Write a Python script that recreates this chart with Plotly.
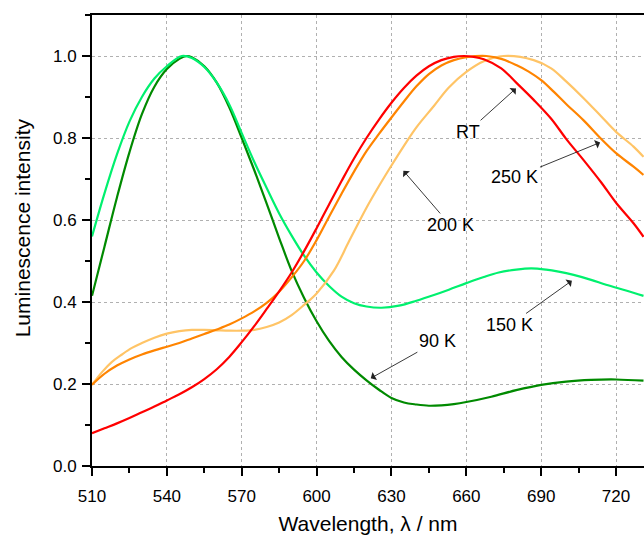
import plotly.graph_objects as go

# ---- data ----
wl_90 = [510, 515, 520, 525, 530, 535, 540, 545, 548, 550, 555, 560, 565, 570, 575, 580, 585, 590, 595,
         600, 605, 610, 615, 620, 625, 630, 635, 640, 645, 650, 655, 660, 670, 680, 690, 700, 710, 720, 731]
int_90 = [0.415, 0.535, 0.655, 0.765, 0.858, 0.925, 0.968, 0.993, 1.0, 0.997, 0.975, 0.935, 0.875, 0.80,
          0.722, 0.64, 0.556, 0.476, 0.41, 0.353, 0.305, 0.266, 0.235, 0.209, 0.186, 0.166, 0.155, 0.15,
          0.147, 0.148, 0.151, 0.156, 0.169, 0.185, 0.198, 0.206, 0.21, 0.211, 0.208]

wl_150 = [510, 515, 520, 525, 530, 535, 540, 546, 550, 555, 560, 565, 570, 575, 580, 585, 590, 595, 600,
          605, 610, 615, 620, 626, 633, 640, 647, 653, 660, 667, 673, 680, 686, 692, 697, 703, 710, 716, 724, 731]
int_150 = [0.56, 0.665, 0.76, 0.84, 0.9, 0.945, 0.975, 1.0, 0.995, 0.973, 0.935, 0.882, 0.812, 0.742, 0.678,
           0.616, 0.562, 0.513, 0.472, 0.439, 0.413, 0.397, 0.389, 0.386, 0.391, 0.403, 0.417, 0.43, 0.446,
           0.461, 0.472, 0.479, 0.482, 0.479, 0.474, 0.466, 0.454, 0.442, 0.428, 0.415]

wl_200 = [510, 514, 518, 522, 526, 530, 535, 540, 545, 550, 555, 560, 565, 570, 575, 580, 585, 590, 595,
          600, 607, 613, 620, 625, 630, 635, 640, 647, 653, 660, 667, 675, 687, 694, 700, 707, 714, 720, 727, 731]
int_200 = [0.198, 0.229, 0.254, 0.272, 0.288, 0.3, 0.313, 0.323, 0.329, 0.332, 0.332, 0.331, 0.33, 0.33,
           0.332, 0.339, 0.35, 0.368, 0.393, 0.421, 0.477, 0.548, 0.63, 0.683, 0.733, 0.781, 0.826, 0.878,
           0.923, 0.961, 0.987, 1.0, 0.99, 0.97, 0.938, 0.897, 0.853, 0.815, 0.779, 0.754]

wl_250 = [510, 515, 520, 525, 530, 535, 540, 545, 550, 555, 560, 565, 570, 575, 580, 585, 590, 595, 600,
          605, 610, 615, 620, 625, 630, 635, 640, 645, 650, 655, 660, 668, 674, 680, 685, 690, 695, 700, 707,
          714, 720, 727, 731]
int_250 = [0.198, 0.225, 0.245, 0.26, 0.272, 0.282, 0.291, 0.30, 0.311, 0.322, 0.333, 0.345, 0.36, 0.377,
           0.398, 0.425, 0.46, 0.50, 0.551, 0.608, 0.664, 0.718, 0.768, 0.81, 0.85, 0.889, 0.926, 0.956, 0.977,
           0.99, 0.997, 1.0, 0.993, 0.978, 0.962, 0.941, 0.913, 0.883, 0.843, 0.798, 0.763, 0.73, 0.71]

wl_rt = [510, 515, 520, 525, 530, 535, 540, 545, 550, 555, 560, 565, 570, 575, 580, 585, 590, 595, 600,
         605, 610, 615, 620, 625, 630, 635, 640, 645, 650, 655, 659, 663, 667, 674, 680, 687, 694, 700, 707,
         714, 720, 727, 731]
int_rt = [0.08, 0.092, 0.104, 0.117, 0.131, 0.145, 0.16, 0.175, 0.192, 0.212, 0.236, 0.266, 0.302, 0.341,
          0.383, 0.426, 0.472, 0.524, 0.58, 0.638, 0.695, 0.75, 0.8, 0.845, 0.886, 0.922, 0.952, 0.975, 0.99,
          0.998, 1.0, 0.998, 0.992, 0.97, 0.935, 0.893, 0.847, 0.798, 0.746, 0.692, 0.642, 0.592, 0.559]

series = [
    ("90 K", wl_90, int_90, "#008a00"),
    ("150 K", wl_150, int_150, "#00f06e"),
    ("200 K", wl_200, int_200, "#ffc466"),
    ("250 K", wl_250, int_250, "#ff8400"),
    ("RT", wl_rt, int_rt, "#ff0000"),
]

# annotation label, label position (x, y), arrow head (x, y)
labels = ["RT", "250 K", "200 K", "150 K", "90 K"]
label_x = [660.6, 679.5, 653.5, 677.5, 648.4]
label_y = [0.815, 0.704, 0.588, 0.344, 0.305]
head_x = [679.9, 713.6, 634.8, 702.3, 621.7]
head_y = [0.921, 0.789, 0.720, 0.452, 0.214]

x_ticks = [510, 540, 570, 600, 630, 660, 690, 720]
y_ticks = [0.0, 0.2, 0.4, 0.6, 0.8, 1.0]

x_title = "Wavelength, λ / nm"
y_title = "Luminescence intensity"

FONT = "Liberation Sans, Arial, sans-serif"

fig = go.Figure()
for name, xs, ys, col in series:
    fig.add_trace(go.Scatter(x=xs, y=ys, mode="lines", name=name,
                             line=dict(color=col, width=2.2, shape="spline", smoothing=1.0),
                             showlegend=False))

for t, lx, ly, hx, hy in zip(labels, label_x, label_y, head_x, head_y):
    fig.add_annotation(x=hx, y=hy, ax=lx, ay=ly, axref="x", ayref="y", xref="x", yref="y",
                       text=t, showarrow=True, arrowhead=1, arrowsize=1.7, arrowwidth=0.9,
                       arrowcolor="#222222", font=dict(family=FONT, size=18, color="black"),
                       standoff=0, startstandoff=0)

# y-axis title placed as rotated text (slightly above the plot centre, as in the reference)
fig.add_annotation(text=y_title, xref="paper", yref="paper", x=-0.126, y=0.528,
                   xanchor="center", yanchor="middle", textangle=-90, showarrow=False,
                   font=dict(family=FONT, size=21, color="black"))

fig.update_xaxes(range=[510, 731.2], tickvals=x_ticks, ticktext=[str(v) for v in x_ticks],
                 showline=True, linecolor="black", linewidth=2, mirror=True,
                 ticks="outside", ticklen=8, tickwidth=2, tickcolor="black",
                 minor=dict(dtick=15, tick0=510, ticks="outside", ticklen=5, tickwidth=2,
                            tickcolor="black", showgrid=False),
                 showgrid=True, gridcolor="#b0b0b0", griddash="3px,3px", gridwidth=1,
                 zeroline=False, tickfont=dict(family=FONT, size=17, color="black"),
                 ticklabelstandoff=6,
                 title=dict(text=x_title, font=dict(family=FONT, size=21, color="black"),
                            standoff=11))
fig.update_yaxes(range=[0, 1.1], tickvals=y_ticks, ticktext=[f"{v:.1f}" for v in y_ticks],
                 showline=True, linecolor="black", linewidth=2, mirror=False,
                 ticks="outside", ticklen=8, tickwidth=2, tickcolor="black",
                 minor=dict(dtick=0.1, tick0=0, ticks="outside", ticklen=5, tickwidth=2,
                            tickcolor="black", showgrid=False),
                 showgrid=True, gridcolor="#b0b0b0", griddash="3px,3px", gridwidth=1,
                 zeroline=False, tickfont=dict(family=FONT, size=17, color="black"),
                 ticklabelstandoff=2)

fig.update_layout(width=644, height=536, margin=dict(l=92, r=0, t=15, b=70),
                  plot_bgcolor="white", paper_bgcolor="white",
                  font=dict(family=FONT, color="black"))

fig.write_html("out.html")
